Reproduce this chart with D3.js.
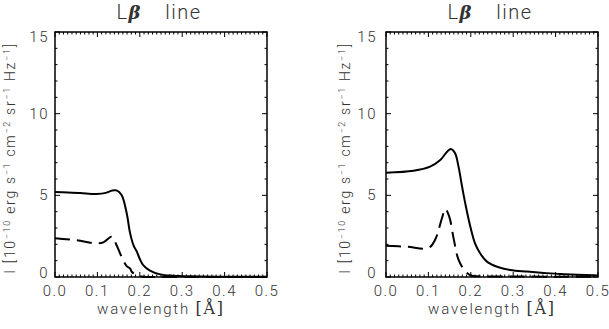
<!DOCTYPE html>
<html>
<head>
<meta charset="utf-8">
<script src="https://cdn.jsdelivr.net/npm/d3@7"></script>
<style>
  body { margin: 0; background: #fff; }
  text { font-family: "Roboto", "DejaVu Sans", sans-serif; font-weight: 300; fill: #333; }
</style>
</head>
<body>
<div id="chart"></div>
<script>
//Datos (wavelength en Å, I en 1e-10 erg s-1 cm-2 sr-1 Hz-1)
const xTicks = [0.0, 0.1, 0.2, 0.3, 0.4, 0.5];
const yTicks = [0, 5, 10, 15];

const leftSolidX = [0, 0.03, 0.06, 0.098, 0.12, 0.135, 0.145, 0.157, 0.169, 0.177, 0.185, 0.193, 0.2, 0.208, 0.224, 0.248, 0.279, 0.32, 0.4, 0.5];
const leftSolidY = [5.2, 5.18, 5.14, 5.08, 5.15, 5.3, 5.3, 5.02, 3.92, 2.7, 1.95, 1.55, 1.1, 0.73, 0.39, 0.16, 0.08, 0.04, 0.02, 0.01];

const leftDashX = [0, 0.05, 0.098, 0.114, 0.134, 0.145, 0.157, 0.169, 0.177, 0.181, 0.196, 0.21, 0.25, 0.35, 0.5];
const leftDashY = [2.37, 2.25, 2.06, 2.12, 2.47, 1.96, 1.24, 0.67, 0.53, 0.32, 0.08, 0.01, 0.0, 0.0, 0.0];

const rightSolidX = [0, 0.065, 0.104, 0.128, 0.144, 0.153, 0.163, 0.171, 0.179, 0.187, 0.198, 0.21, 0.222, 0.238, 0.262, 0.293, 0.333, 0.372, 0.411, 0.45, 0.5];
const rightSolidY = [6.39, 6.51, 6.76, 7.16, 7.67, 7.84, 7.57, 6.76, 5.6, 4.5, 3.18, 2.06, 1.45, 0.94, 0.63, 0.43, 0.33, 0.25, 0.18, 0.14, 0.09];

const rightDashX = [0, 0.05, 0.1, 0.116, 0.132, 0.14, 0.149, 0.16, 0.171, 0.187, 0.203, 0.23, 0.3, 0.4, 0.5];
const rightDashY = [1.92, 1.85, 1.78, 2.29, 3.6, 4.16, 3.71, 2.29, 1.06, 0.35, 0.08, 0.04, 0.03, 0.02, 0.02];

const titulo = 'line';

const W = 609, H = 329;
const svg = d3.select('#chart').append('svg')
    .attr('width', W)
    .attr('height', H);

function drawPanel(left, right, solidX, solidY, dashX, dashY, labelGap, yTitleGap) {
    let margin = {top: 32, bottom: 277};

    let x = d3.scaleLinear().domain([0, 0.5]).range([left, right]);
    let y = d3.scaleLinear().domain([0, 15]).range([margin.bottom, margin.top]);

    let g = svg.append('g');

    //Caja
    g.append('rect')
        .attr('x', left).attr('y', margin.top)
        .attr('width', right - left).attr('height', margin.bottom - margin.top)
        .attr('fill', 'none').attr('stroke', '#000').attr('stroke-width', 1.5);

    //Ticks eje X (abajo y arriba)
    let xMinor = d3.range(0, 51).map(d => d / 100);
    xMinor.forEach(function(v, i) {
        let len = (i % 10 === 0) ? 5 : 2.5;
        g.append('line').attr('x1', x(v)).attr('x2', x(v))
            .attr('y1', margin.bottom).attr('y2', margin.bottom - len)
            .attr('stroke', '#000').attr('stroke-width', 1);
        g.append('line').attr('x1', x(v)).attr('x2', x(v))
            .attr('y1', margin.top).attr('y2', margin.top + len)
            .attr('stroke', '#000').attr('stroke-width', 1);
    });

    //Ticks eje Y (izquierda y derecha)
    d3.range(0, 16).forEach(function(v) {
        let len = (v % 5 === 0) ? 5 : 2.5;
        g.append('line').attr('x1', left).attr('x2', left + len)
            .attr('y1', y(v)).attr('y2', y(v))
            .attr('stroke', '#000').attr('stroke-width', 1);
        g.append('line').attr('x1', right).attr('x2', right - len)
            .attr('y1', y(v)).attr('y2', y(v))
            .attr('stroke', '#000').attr('stroke-width', 1);
    });

    //Etiquetas
    g.selectAll('.xl').data(xTicks).enter().append('text')
        .attr('x', d => x(d)).attr('y', 296)
        .attr('text-anchor', 'middle')
        .attr('font-size', 15)
        .attr('letter-spacing', 1.5)
        .text(d => d.toFixed(1));

    g.selectAll('.yl').data(yTicks).enter().append('text')
        .attr('x', left - labelGap)
        .attr('y', function(d) {
            let shift = d === 15 ? 5 : (d === 0 ? -4 : 0);
            return y(d) + 5 + shift;
        })
        .attr('text-anchor', 'end')
        .attr('font-size', 15)
        .attr('letter-spacing', 1.5)
        .text(d => d);

    let cx = (left + right) / 2;

    //Titulo
    let t = g.append('text')
        .attr('x', cx - 2).attr('y', 19)
        .attr('text-anchor', 'middle')
        .attr('font-size', 20)
        .attr('letter-spacing', 1.5);
    t.append('tspan').text('L');
    t.append('tspan').attr('font-style', 'italic').attr('font-weight', 700).attr('font-family', 'DejaVu Serif').attr('font-size', 18).text('β');
    t.append('tspan').text('\u2002\u2002' + titulo);

    //Eje X titulo
    let xt = g.append('text')
        .attr('x', cx).attr('y', 314)
        .attr('text-anchor', 'middle')
        .attr('font-size', 15)
        .attr('letter-spacing', 1.8);
    xt.append('tspan').text('wavelength ');
    xt.append('tspan').attr('font-family', 'DejaVu Serif').attr('font-size', 16).text('[Å]');

    //Eje Y titulo
    let yx = left - yTitleGap, yy = 158;
    let yt = g.append('text')
        .attr('transform', 'translate(' + yx + ',' + yy + ') rotate(-90)')
        .attr('text-anchor', 'middle')
        .attr('font-size', 14)
        .attr('letter-spacing', 1.7);
    let parts = [['I [10', ''], ['−10', 'sup'], [' erg s', ''], ['−1', 'sup'], [' cm', ''], ['−2', 'sup'], [' sr', ''], ['−1', 'sup'], [' Hz', ''], ['−1', 'sup'], [']', '']];
    parts.forEach(function(p) {
        let s = yt.append('tspan').text(p[0]);
        if (p[1] === 'sup') {
            s.attr('font-size', 9).attr('dy', -5);
        } else {
            s.attr('dy', p[0] === 'I [10' ? 0 : 5);
        }
    });

    //Curvas
    let line = d3.line()
        .x(d => x(d[0]))
        .y(d => y(d[1]))
        .curve(d3.curveCatmullRom.alpha(0.5));

    g.append('path')
        .datum(d3.zip(solidX, solidY))
        .attr('d', line)
        .attr('fill', 'none').attr('stroke', '#000').attr('stroke-width', 2);

    g.append('path')
        .datum(d3.zip(dashX, dashY))
        .attr('d', line)
        .attr('fill', 'none').attr('stroke', '#000').attr('stroke-width', 2)
        .attr('stroke-dasharray', '15,7');
}

drawPanel(55, 267, leftSolidX, leftSolidY, leftDashX, leftDashY, 6, 40);
drawPanel(386, 598, rightSolidX, rightSolidY, rightDashX, rightDashY, 9, 36);
</script>
</body>
</html>
